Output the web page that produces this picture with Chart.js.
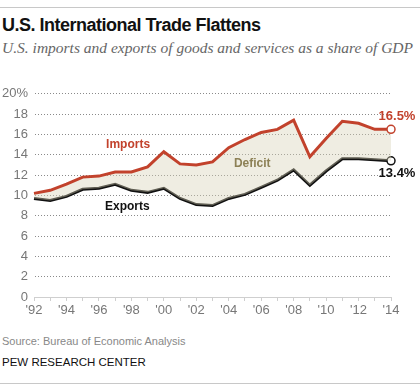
<!DOCTYPE html>
<html>
<head>
<meta charset="utf-8">
<script src="https://cdn.jsdelivr.net/npm/chart.js@4.4.1/dist/chart.umd.min.js"></script>
<style>
  body { margin: 0; background: #fff; font-family: "Liberation Sans", Arial, sans-serif; }
  #wrap { position: relative; width: 420px; height: 390px; overflow: hidden; }
  .rule { position: absolute; left: 0; width: 420px; height: 1px; background: #c8c8c8; }
  #title { position: absolute; left: 2px; top: 15px; font-size: 18px; letter-spacing: -0.5px; font-weight: bold; color: #111; white-space: nowrap; }
  #subtitle { position: absolute; left: 2px; top: 39px; font-family: "Liberation Serif", Georgia, serif; font-style: italic; font-size: 15.5px; color: #666; white-space: nowrap; }
  #source { position: absolute; left: 2px; top: 335px; font-size: 11px; color: #888; white-space: nowrap; }
  #pew { position: absolute; left: 2px; top: 356px; font-size: 11.5px; color: #111; white-space: nowrap; }
  #box { position: absolute; left: 0; top: 80px; width: 420px; height: 250px; }
</style>
</head>
<body>
<div id="wrap">
  <div class="rule" style="top:7px"></div>
  <div id="title">U.S. International Trade Flattens</div>
  <div id="subtitle">U.S. imports and exports of goods and services as a share of GDP</div>
  <div id="box"><canvas id="tradeChart"></canvas></div>
  <div id="source">Source: Bureau of Economic Analysis</div>
  <div id="pew">PEW RESEARCH CENTER</div>
  <div class="rule" style="top:383px"></div>
</div>
<script>
// Years 1992-2014
let years = [
    "1992", "1993", "1994", "1995", "1996", "1997", "1998", "1999", "2000", "2001", "2002", "2003",
    "2004", "2005", "2006", "2007", "2008", "2009", "2010", "2011", "2012", "2013", "2014"
];

// Share of GDP, percent
let imports = [10.2, 10.5, 11.1, 11.8, 11.9, 12.3, 12.3, 12.8, 14.3, 13.1, 13.0, 13.3,
               14.7, 15.5, 16.2, 16.5, 17.4, 13.8, 15.6, 17.3, 17.1, 16.5, 16.5];
let exports = [9.7, 9.5, 9.9, 10.6, 10.7, 11.1, 10.5, 10.3, 10.7, 9.7, 9.1, 9.0,
               9.7, 10.1, 10.8, 11.5, 12.5, 11.0, 12.4, 13.6, 13.6, 13.5, 13.4];

let yTicks = [0, 2, 4, 6, 8, 10, 12, 14, 16, 18, 20];

const red = '#c2422c';
const black = '#111';

// Only the last point gets an open circle
function lastPointRadius(ctx) {
    return ctx.dataIndex === ctx.dataset.data.length - 1 ? 4 : 0;
}

// Text labels drawn next to the lines
const labelsPlugin = {
    id: 'labels',
    afterDatasetsDraw(chart) {
        const c = chart.ctx;
        const xs = chart.scales.x;
        const ys = chart.scales.y;
        const last = years.length - 1;
        c.save();
        c.textAlign = 'center';
        c.textBaseline = 'middle';
        c.font = 'bold 12px "Liberation Sans", Arial, sans-serif';

        c.fillStyle = red;
        c.fillText('Imports', xs.getPixelForValue(5.8), ys.getPixelForValue(15.0));
        c.fillStyle = black;
        c.fillText('Exports', xs.getPixelForValue(5.75), ys.getPixelForValue(8.85));
        c.fillStyle = '#8d8156';
        c.fillText('Deficit', xs.getPixelForValue(13.45), ys.getPixelForValue(13.1));

        c.font = 'bold 13px "Liberation Sans", Arial, sans-serif';
        const lx = xs.getPixelForValue(last) + 6;
        c.fillStyle = red;
        c.fillText(imports[last].toFixed(1) + '%', lx, ys.getPixelForValue(imports[last]) - 13);
        c.fillStyle = black;
        c.fillText(exports[last].toFixed(1) + '%', lx, ys.getPixelForValue(exports[last]) + 13);
        c.restore();
    }
};

function createTradeChart() {
    const ctx = document.getElementById('tradeChart').getContext('2d');

    new Chart(ctx, {
        type: 'line',
        data: {
            labels: years,
            datasets: [{
                label: 'Imports',
                data: imports,
                borderColor: red,
                borderWidth: 3,
                pointRadius: lastPointRadius,
                pointBackgroundColor: '#fff',
                pointBorderColor: red,
                pointBorderWidth: 1.5,
                fill: '+1',
                backgroundColor: 'rgba(214, 211, 182, 0.4)',
                tension: 0
            }, {
                label: 'Exports',
                data: exports,
                borderColor: black,
                borderWidth: 3,
                pointRadius: lastPointRadius,
                pointBackgroundColor: '#fff',
                pointBorderColor: black,
                pointBorderWidth: 1.5,
                fill: false,
                tension: 0
            }]
        },
        options: {
            responsive: false,
            animation: false,
            layout: { padding: { top: 11, right: 29, bottom: 3, left: 0 } },
            plugins: {
                legend: { display: false },
                tooltip: { enabled: false }
            },
            scales: {
                x: {
                    offset: false,
                    grid: {
                        drawOnChartArea: false,
                        drawTicks: true,
                        tickLength: 4,
                        color: '#cfcfcf'
                    },
                    border: { color: '#cfcfcf' },
                    ticks: {
                        autoSkip: false,
                        maxRotation: 0,
                        padding: 2,
                        color: '#777',
                        font: { family: '"Liberation Sans", Arial, sans-serif', size: 13 },
                        callback: function(value, index) {
                            return index % 2 === 0 ? "'" + years[index].slice(2) : '';
                        }
                    },
                    afterFit: function(scale) { scale.height = 30; }
                },
                y: {
                    min: 0,
                    max: 20,
                    afterBuildTicks: function(scale) {
                        scale.ticks = yTicks.map(function(v) { return { value: v }; });
                    },
                    grid: {
                        drawTicks: false,
                        color: function(c) { return c.tick && c.tick.value === 0 ? 'rgba(0,0,0,0)' : '#8a8a8a'; },
                        lineWidth: 1,
                        borderDash: [1, 2]
                    },
                    border: { display: true, color: 'rgba(0,0,0,0)', dash: [1, 2] },
                    ticks: {
                        padding: 6,
                        color: '#777',
                        font: { family: '"Liberation Sans", Arial, sans-serif', size: 13 },
                        callback: function(value) { return value === 20 ? '20%' : value; }
                    },
                    afterFit: function(scale) { scale.width = 34; }
                }
            }
        },
        plugins: [labelsPlugin]
    });
}

window.onload = function() {
    const canvas = document.getElementById('tradeChart');
    canvas.width = 420;
    canvas.height = 250;
    createTradeChart();
};
</script>
</body>
</html>
